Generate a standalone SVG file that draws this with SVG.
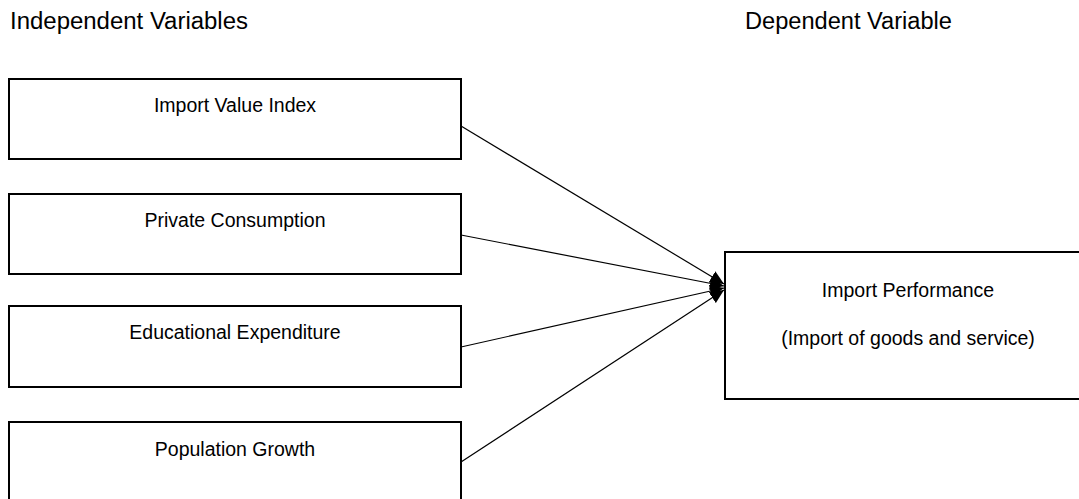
<svg xmlns="http://www.w3.org/2000/svg" width="1079" height="499" viewBox="0 0 1079 499">
<style>
.box{fill:#fff;stroke:#000;stroke-width:2}
.lbl{font-family:"Liberation Sans",Arial,sans-serif;font-size:19.5px;fill:#000;text-anchor:middle}
.hdr{font-family:"Liberation Sans",Arial,sans-serif;font-size:23.5px;fill:#000}
.conn{stroke:#000;stroke-width:1.2;fill:none;marker-end:url(#arr)}
</style>
<defs>
<marker id="arr" markerUnits="userSpaceOnUse" markerWidth="15" markerHeight="13" refX="14" refY="6.5" orient="auto">
<path d="M0,0 L14,6.5 L0,13 z" fill="#000"/>
</marker>
</defs>
<rect width="1079" height="499" fill="#fff"/>
<text class="hdr" x="10" y="29" textLength="238" lengthAdjust="spacingAndGlyphs">Independent Variables</text>
<text class="hdr" x="745" y="29" textLength="207" lengthAdjust="spacingAndGlyphs">Dependent Variable</text>
<g id="node-import-value-index">
<rect class="box" x="9" y="79" width="452" height="80"/>
<text class="lbl" x="235" y="112">Import Value Index</text>
</g>
<g id="node-private-consumption">
<rect class="box" x="9" y="194" width="452" height="80"/>
<text class="lbl" x="235" y="227">Private Consumption</text>
</g>
<g id="node-educational-expenditure">
<rect class="box" x="9" y="306" width="452" height="81"/>
<text class="lbl" x="235" y="339">Educational Expenditure</text>
</g>
<g id="node-population-growth">
<rect class="box" x="9" y="422" width="452" height="84"/>
<text class="lbl" x="235" y="456">Population Growth</text>
</g>
<g id="node-import-performance">
<rect class="box" x="725" y="252" width="370" height="147"/>
<text class="lbl" x="908" y="297">Import Performance</text>
<text class="lbl" x="908" y="345">(Import of goods and service)</text>
</g>
<g id="connectors">
<line class="conn" x1="461" y1="126" x2="724" y2="284"/>
<line class="conn" x1="461" y1="235" x2="724" y2="286"/>
<line class="conn" x1="461" y1="347" x2="724" y2="288"/>
<line class="conn" x1="461" y1="462" x2="724" y2="290"/>
</g>
</svg>
